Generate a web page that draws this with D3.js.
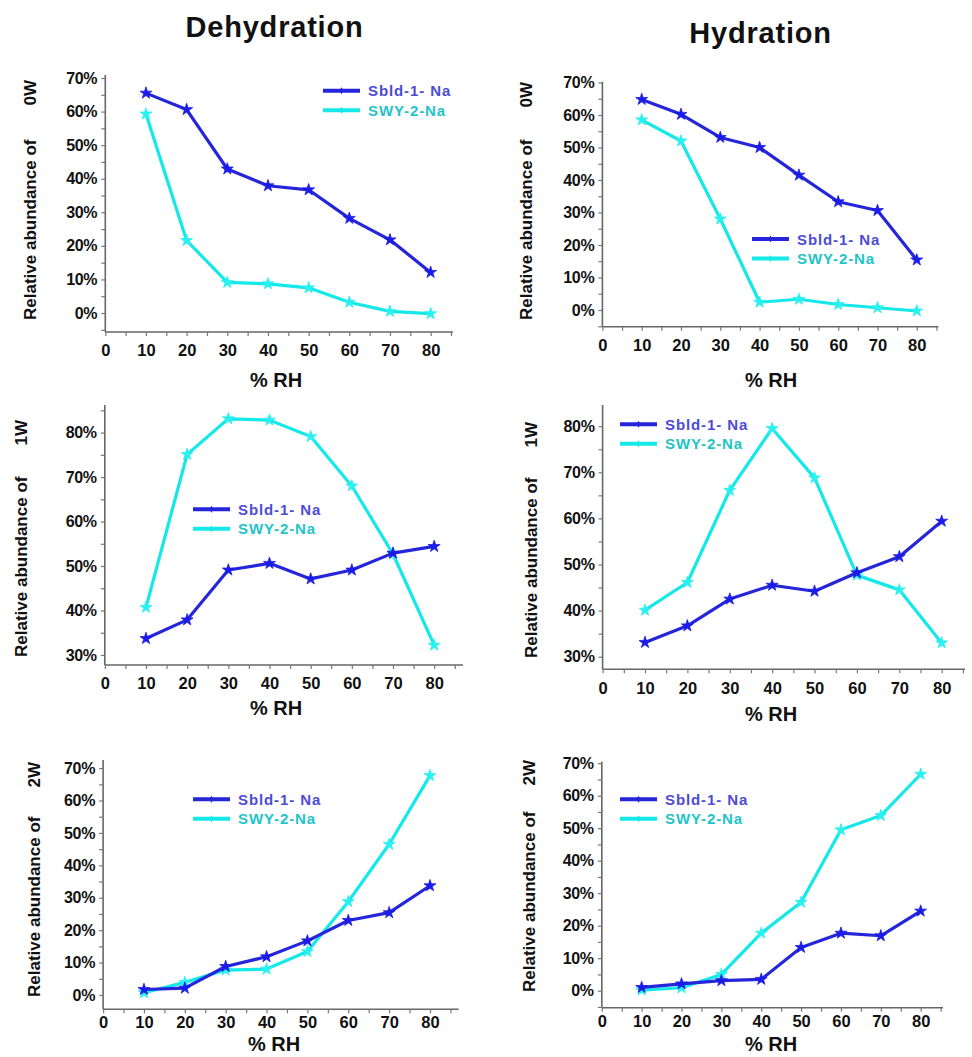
<!DOCTYPE html>
<html>
<head>
<meta charset="utf-8">
<script src="https://cdn.jsdelivr.net/npm/d3@7"></script>
<style>
  html, body { margin: 0; padding: 0; background: #fff; }
  svg { display: block; }
  text { font-family: "Liberation Sans", Arial, sans-serif; font-weight: bold; }
</style>
</head>
<body>
<svg id="chart" width="972" height="1057"></svg>
<script>
// Relative humidity steps (% RH)
const rh = [10, 20, 30, 40, 50, 60, 70, 80];

// Relative abundance (%) of each hydration state, Sbld-1-Na vs SWY-2-Na
const sbldDehy0W = [65.5, 60.6, 42.9, 37.9, 36.7, 28.2, 21.8, 12.1];
const swyDehy0W  = [59.3, 21.6, 9.1, 8.7, 7.5, 3.2, 0.5, -0.2];
const sbldHyd0W  = [64.8, 60.2, 53.1, 50.0, 41.5, 33.3, 30.6, 15.4];
const swyHyd0W   = [58.5, 52.0, 28.0, 2.4, 3.3, 1.7, 0.7, -0.3];

const sbldDehy1W = [33.7, 37.9, 49.1, 50.6, 47.1, 49.1, 52.9, 54.4];
const swyDehy1W  = [40.7, 75.1, 83.1, 82.8, 79.1, 68.0, 52.7, 32.2];
const sbldHyd1W  = [33.1, 36.7, 42.5, 45.5, 44.2, 48.2, 51.7, 59.4];
const swyHyd1W   = [40.1, 46.1, 66.1, 79.5, 68.8, 47.7, 44.5, 33.0];

const sbldDehy2W = [1.7, 2.1, 8.8, 11.8, 16.7, 23.0, 25.4, 33.7];
const swyDehy2W  = [0.7, 3.9, 7.7, 8.0, 13.4, 28.8, 46.5, 67.7];
const sbldHyd2W  = [1.0, 2.1, 3.1, 3.5, 13.3, 17.7, 16.9, 24.5];
const swyHyd2W   = [0.2, 0.9, 5.0, 17.7, 27.2, 49.5, 53.9, 66.6];

// Axis tick labels
const xTickVals = [0, 10, 20, 30, 40, 50, 60, 70, 80];
const yTicks0to70 = [0, 10, 20, 30, 40, 50, 60, 70];
const yTicks30to80 = [30, 40, 50, 60, 70, 80];

const seriesNames = ["Sbld-1- Na", "SWY-2-Na"];
const columnTitles = ["Dehydration", "Hydration"];

const colors = {
  sbldLine: "#2525da", sbldStar: "#1c1ce8", sbldText: "#4c4cd6",
  swyLine: "#14e8e8", swyStar: "#2af0f0", swyText: "#1fc4c8"
};

// Panel layout: y-axis origin, x-axis baseline, value ranges shown on each axis
const panels = [
  { sbld: sbldDehy0W, swy: swyDehy0W, water: "0W", yTicks: yTicks0to70,
    left: 105.3, xEnd: 453, xMax: 85.5, bottom: 332, top: 75, yMin: -5.66, yMax: 70.9,
    legend: [323, 90.7], ylab: [30, 320, 80], rhY: 387, cx: 276, tickDy: 1.05 },
  { sbld: sbldHyd0W, swy: swyHyd0W, water: "0W", yTicks: yTicks0to70,
    left: 602.4, xEnd: 938.4, xMax: 85.5, bottom: 326.7, top: 81.7, yMin: -5.14, yMax: 70.25,
    legend: [752, 239], ylab: [526, 320, 82], rhY: 387, cx: 771, tickDy: 1.05 },
  { sbld: sbldDehy1W, swy: swyDehy1W, water: "1W", yTicks: yTicks30to80,
    left: 104.8, xEnd: 463, xMax: 87, bottom: 665, top: 405, yMin: 27.75, yMax: 86.2,
    legend: [193, 509.3], ylab: [21, 657, 420], rhY: 715, cx: 276, tickDy: 1.05 },
  { sbld: sbldHyd1W, swy: swyHyd1W, water: "1W", yTicks: yTicks30to80,
    left: 602.6, xEnd: 965, xMax: 85.5, bottom: 669.3, top: 405, yMin: 27.27, yMax: 84.6,
    legend: [620, 424.3], ylab: [531, 658, 422], rhY: 721, cx: 771, tickDy: 1.05 },
  { sbld: sbldDehy2W, swy: swyDehy2W, water: "2W", yTicks: yTicks0to70,
    left: 103.1, xEnd: 458.6, xMax: 87, bottom: 1009.3, top: 760, yMin: -4.41, yMax: 72.5,
    legend: [193, 799.3], ylab: [34, 997, 762], rhY: 1051, cx: 274, tickDy: 0.72 },
  { sbld: sbldHyd2W, swy: swyHyd2W, water: "2W", yTicks: yTicks0to70,
    left: 601.8, xEnd: 943, xMax: 85.6, bottom: 1007.7, top: 761.7, yMin: -5.23, yMax: 70.46,
    legend: [620, 799.3], ylab: [529, 992, 760], rhY: 1051, cx: 771, tickDy: 0.72 }
];

const svg = d3.select("#chart");

// Column titles
svg.selectAll("text.col-title")
  .data(columnTitles)
  .join("text")
  .attr("class", "col-title")
  .attr("x", (d, i) => i === 0 ? 274.5 : 760.5)
  .attr("y", (d, i) => i === 0 ? 37 : 43)
  .attr("text-anchor", "middle")
  .attr("font-size", 29)
  .attr("letter-spacing", 0.8)
  .attr("fill", "#111")
  .text(d => d);

const star = d3.symbol().type(d3.symbolStar).size(44);

panels.forEach(p => {
  const g = svg.append("g");
  const x = d3.scaleLinear().domain([0, p.xMax]).range([p.left, p.xEnd]);
  const y = d3.scaleLinear().domain([p.yMin, p.yMax]).range([p.bottom, p.top]);

  // X axis: minor ticks every 5, labels every 10
  const xAxis = d3.axisBottom(x)
    .tickValues(d3.range(0, p.xMax, 5))
    .tickSize(4)
    .tickFormat(d => xTickVals.includes(d) ? d : "");
  const gx = g.append("g").attr("transform", `translate(0,${p.bottom})`).call(xAxis);
  gx.select(".domain").attr("d", `M${p.left},0H${p.xEnd}`);

  // Y axis: minor ticks every 5 %, labels every 10 %
  const yTickAll = d3.range(p.yTicks[0] - 5 < p.yMin ? p.yTicks[0] : p.yTicks[0] - 5, p.yMax, 5)
    .filter(v => v >= p.yMin && v <= p.yMax);
  const yAxis = d3.axisLeft(y)
    .tickValues(yTickAll)
    .tickSize(4)
    .tickPadding(4)
    .tickFormat(d => p.yTicks.includes(d) ? d + "%" : "");
  const gy = g.append("g").attr("transform", `translate(${p.left},0)`).call(yAxis);
  gy.select(".domain").attr("d", `M0,${p.top}V${p.bottom}`);

  [gx, gy].forEach(a => {
    a.select(".domain").attr("stroke", "#666").attr("stroke-width", 1.6);
    a.selectAll(".tick line").attr("stroke", "#777").attr("stroke-width", 1.2);
  });
  gx.selectAll(".tick text")
    .attr("font-size", 16.5).attr("fill", "#111")
    .attr("font-family", "'Liberation Sans', Arial, sans-serif").attr("font-weight", "bold")
    .attr("dy", p.tickDy + "em");
  gy.selectAll(".tick text")
    .attr("font-size", 16).attr("fill", "#111").attr("letter-spacing", -0.3)
    .attr("font-family", "'Liberation Sans', Arial, sans-serif").attr("font-weight", "bold");

  // Axis titles
  g.append("text")
    .attr("x", p.cx).attr("y", p.rhY)
    .attr("text-anchor", "middle")
    .attr("font-size", 20)
    .attr("fill", "#111")
    .text("% RH");

  const [lx, lyBottom, lyTop] = p.ylab;
  g.append("text")
    .attr("transform", `translate(${lx + 6},${lyBottom}) rotate(-90)`)
    .attr("text-anchor", "start")
    .attr("font-size", 17)
    .attr("fill", "#111")
    .text("Relative abundance of");
  g.append("text")
    .attr("transform", `translate(${lx + 6},${lyTop}) rotate(-90)`)
    .attr("text-anchor", "end")
    .attr("font-size", 17)
    .attr("fill", "#111")
    .text(p.water);

  const line = d3.line().x((d, i) => x(rh[i])).y(d => y(d));

  const series = [
    { vals: p.sbld, line: colors.sbldLine, star: colors.sbldStar },
    { vals: p.swy, line: colors.swyLine, star: colors.swyStar }
  ];
  // SWY drawn first so Sbld sits on top where they cross
  series.slice().reverse().forEach(s => {
    g.append("path")
      .datum(s.vals)
      .attr("d", line)
      .attr("fill", "none")
      .attr("stroke", s.line)
      .attr("stroke-width", 3.2)
      .attr("stroke-linejoin", "round");
    g.selectAll(null)
      .data(s.vals)
      .join("path")
      .attr("d", star)
      .attr("transform", (d, i) => `translate(${x(rh[i])},${y(d)})`)
      .attr("fill", s.star)
      .attr("stroke", s.star)
      .attr("stroke-width", 0.8);
  });

  // Legend
  const [lgx, lgy] = p.legend;
  const items = [
    { name: seriesNames[0], line: colors.sbldLine, text: colors.sbldText },
    { name: seriesNames[1], line: colors.swyLine, text: colors.swyText }
  ];
  const lg = g.append("g").attr("transform", `translate(${lgx},${lgy})`);
  items.forEach((it, i) => {
    const row = lg.append("g").attr("transform", `translate(0,${i * 19.5})`);
    row.append("line")
      .attr("x1", 0).attr("x2", 37).attr("y1", 0).attr("y2", 0)
      .attr("stroke", it.line).attr("stroke-width", 4);
    row.append("path")
      .attr("d", d3.symbol().type(d3.symbolDiamond).size(14)())
      .attr("transform", "translate(18.5,0)")
      .attr("fill", it.line);
    row.append("text")
      .attr("x", 45).attr("y", 5.5)
      .attr("font-size", 15)
      .attr("letter-spacing", 0.9)
      .attr("fill", it.text)
      .text(it.name);
  });
});
</script>
</body>
</html>
